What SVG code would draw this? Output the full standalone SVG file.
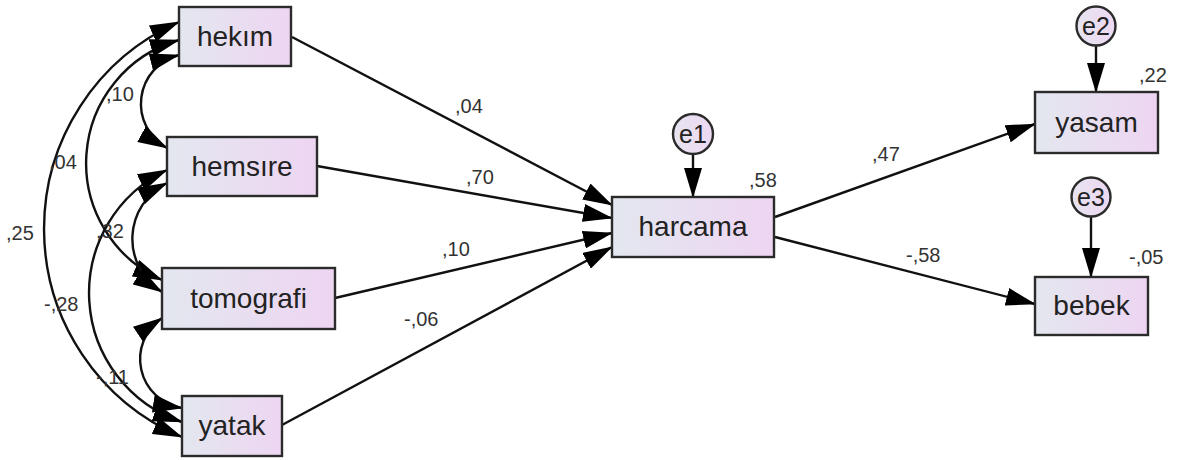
<svg xmlns="http://www.w3.org/2000/svg" width="1178" height="460" viewBox="0 0 1178 460">
<defs>
<linearGradient id="boxfill" x1="0" y1="0" x2="1" y2="0">
<stop offset="0" stop-color="#e3e7ef"/>
<stop offset="1" stop-color="#eed5f2"/>
</linearGradient>
<linearGradient id="circfill" x1="0" y1="0" x2="1" y2="0">
<stop offset="0" stop-color="#e6e4f0"/>
<stop offset="1" stop-color="#eed8f2"/>
</linearGradient>
<marker id="ah" viewBox="0 0 30 18" refX="29" refY="9" markerWidth="30" markerHeight="18" markerUnits="userSpaceOnUse" orient="auto-start-reverse">
<path d="M0,0 L30,9 L0,18 Z" fill="#000"/>
</marker>
</defs>
<style>
.box{fill:url(#boxfill);stroke:#2b2b2b;stroke-width:2.4}
.circ{fill:url(#circfill);stroke:#2b2b2b;stroke-width:2.4}
.lbl{font-family:"Liberation Sans",Arial,sans-serif;font-size:28px;fill:#222;text-anchor:middle}
.elbl{font-family:"Liberation Sans",Arial,sans-serif;font-size:25px;fill:#222;text-anchor:middle}
.num{font-family:"Liberation Sans",Arial,sans-serif;font-size:20px;fill:#333}
.edge{fill:none;stroke:#111;stroke-width:2.4}
.one{marker-end:url(#ah)}
.two{marker-start:url(#ah);marker-end:url(#ah)}
</style>
<rect width="1178" height="460" fill="#fff"/>

<g id="connectors">
<path class="edge two" d="M179,55 A50.4,50.4 0 0 0 167,148"/>
<path class="edge two" d="M179,40 A128,128 0 0 0 162,280"/>
<path class="edge two" d="M179,22 A226,226 0 0 0 182,437"/>
<path class="edge two" d="M167,183 A62.4,62.4 0 0 0 162,292"/>
<path class="edge two" d="M167,170 A136,136 0 0 0 182,422"/>
<path class="edge two" d="M162,318 A49.5,49.5 0 0 0 182,408"/>
<path class="edge one" d="M292,37 L612,205"/>
<path class="edge one" d="M317,166 L612,218"/>
<path class="edge one" d="M335,298 L612,233"/>
<path class="edge one" d="M282,425 L612,247"/>
<path class="edge one" d="M693,154 L693,197"/>
<path class="edge one" d="M1096,46 L1096,92"/>
<path class="edge one" d="M1091,217 L1091,277"/>
<path class="edge one" d="M775,217 L1035,124"/>
<path class="edge one" d="M775,237 L1035,304"/>
</g>

<g id="labels">
<text class="num" x="455" y="113">,04</text>
<text class="num" x="466" y="184">,70</text>
<text class="num" x="442" y="256">,10</text>
<text class="num" x="404" y="326">-,06</text>
<text class="num" x="872" y="161">,47</text>
<text class="num" x="906" y="262">-,58</text>
<text class="num" x="749" y="187">,58</text>
<text class="num" x="1139" y="82">,22</text>
<text class="num" x="1129" y="264">-,05</text>
<text class="num" x="106" y="101">,10</text>
<text class="num" x="49" y="169">,04</text>
<text class="num" x="6" y="240">,25</text>
<text class="num" x="96" y="238">,32</text>
<text class="num" x="44" y="311">-,28</text>
<text class="num" x="96" y="384">-,11</text>
</g>

<g id="hekim"><rect class="box" x="179" y="7" width="112" height="59"/><text class="lbl" x="235" y="46">hekım</text></g>
<g id="hemsire"><rect class="box" x="167" y="137" width="150" height="59"/><text class="lbl" x="242" y="176">hemsıre</text></g>
<g id="tomografi"><rect class="box" x="162" y="268" width="173" height="61"/><text class="lbl" x="248.5" y="308">tomografi</text></g>
<g id="yatak"><rect class="box" x="182" y="396" width="100" height="60"/><text class="lbl" x="232" y="435">yatak</text></g>
<g id="harcama"><rect class="box" x="612" y="197" width="162" height="60"/><text class="lbl" x="693" y="236">harcama</text></g>
<g id="yasam"><rect class="box" x="1035" y="92" width="123" height="61"/><text class="lbl" x="1096.5" y="132">yasam</text></g>
<g id="bebek"><rect class="box" x="1035" y="277" width="113" height="58"/><text class="lbl" x="1091.5" y="315">bebek</text></g>
<g id="e1"><circle class="circ" cx="693" cy="134" r="20"/><text class="elbl" x="693" y="143">e1</text></g>
<g id="e2"><circle class="circ" cx="1096" cy="26" r="19.5"/><text class="elbl" x="1096" y="35">e2</text></g>
<g id="e3"><circle class="circ" cx="1091" cy="197" r="19.5"/><text class="elbl" x="1091" y="206">e3</text></g>
</svg>
